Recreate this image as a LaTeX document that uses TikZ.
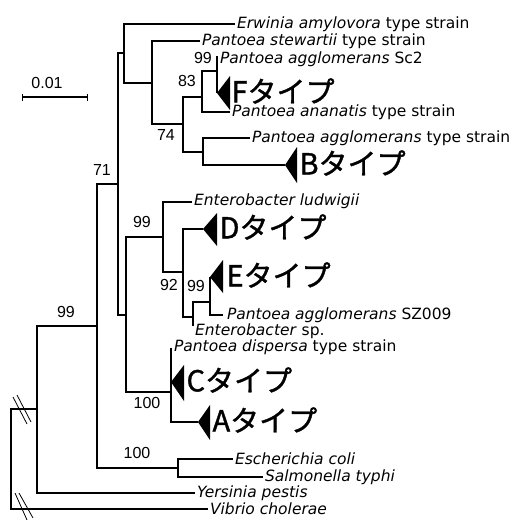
\documentclass[tikz,border=0pt]{standalone}
\usepackage{fontspec}
\setmainfont{DejaVu Sans}
\newfontfamily\jpfont[FakeBold=1.2]{Noto Sans CJK JP}
\newfontfamily\numfont{Liberation Sans}
\usetikzlibrary{arrows.meta}
\begin{document}
\begin{tikzpicture}[x=1pt,y=-1pt,line width=1.1pt,
  sp/.style={anchor=west,inner sep=1.5pt,font=\fontsize{15.5}{16}\selectfont},
  bs/.style={inner sep=0pt,font=\numfont\fontsize{16}{16}\selectfont},
  typ/.style={anchor=west,inner sep=0pt,font=\jpfont\fontsize{29}{29}\selectfont}]

\useasboundingbox (0,0) rectangle (515,520);

% inner nodes of the tree
\coordinate (r) at (11,459);  \coordinate (n1) at (37,409);  \coordinate (n2) at (97,326);
\coordinate (n3) at (118,184); \coordinate (n4) at (124,53);  \coordinate (n5) at (126,315);
\coordinate (n6) at (152,83);  \coordinate (n7) at (183,124); \coordinate (n8) at (202,97);
\coordinate (n9) at (203,152); \coordinate (n10) at (217,71); \coordinate (n11) at (163,237);
\coordinate (n12) at (171,392); \coordinate (n13) at (183,272); \coordinate (n14) at (193,317);
\coordinate (n15) at (210,302); \coordinate (n16) at (178,468);

% leaves
\coordinate (erw) at (235,24);  \coordinate (ste) at (200,41);  \coordinate (sc2) at (217,56);
\coordinate (ana) at (230,112); \coordinate (agg) at (250,138); \coordinate (lud) at (192,202);
\coordinate (sz9) at (223,315); \coordinate (esp) at (193,326); \coordinate (dis) at (171,348);
\coordinate (eco) at (233,459); \coordinate (sal) at (263,477); \coordinate (yer) at (195,493);
\coordinate (vib) at (208,509);
\coordinate (tF) at (217,93);  \coordinate (tB) at (285,165); \coordinate (tD) at (203,229);
\coordinate (tE) at (210,277); \coordinate (tC) at (171,382); \coordinate (tA) at (198,422);

% branches
\draw (r) |- (n1);  \draw (r) |- (vib);
\draw (n1) |- (n2); \draw (n1) |- (yer);
\draw (n2) |- (n3); \draw (n2) |- (n16);
\draw (n16) |- (eco); \draw (n16) |- (sal);
\draw (n3) |- (n4); \draw (n3) |- (n5);
\draw (n4) |- (erw); \draw (n4) |- (n6);
\draw (n6) |- (ste); \draw (n6) |- (n7);
\draw (n7) |- (n8); \draw (n7) |- (n9);
\draw (n8) |- (n10); \draw (n8) |- (ana);
\draw (n10) |- (sc2); \draw (n10) |- (tF);
\draw (n9) |- (agg); \draw (n9) |- (tB);
\draw (n5) |- (n11); \draw (n5) |- (n12);
\draw (n11) |- (lud); \draw (n11) |- (n13);
\draw (n13) |- (tD); \draw (n13) |- (n14);
\draw (n14) |- (n15); \draw (n14) |- (esp);
\draw (n15) |- (tE); \draw (n15) |- (sz9);
\draw (n12) |- (dis); \draw (n12) |- (tC); \draw (n12) |- (tA);

% collapsed clades
\fill (tF) -- ++(13,-17) -- ++(0,34) -- cycle;
\fill (tB) -- ++(12,-18) -- ++(0,36) -- cycle;
\fill (tD) -- ++(14,-16) -- ++(0,33) -- cycle;
\fill (tE) -- ++(13,-17) -- ++(0,33) -- cycle;
\fill (tC) -- ++(13,-17) -- ++(0,36) -- cycle;
\fill (tA) -- ++(12,-17) -- ++(0,35) -- cycle;

% break marks
\draw[line width=0.8pt] (13,397) -- (27,424); \draw[line width=0.8pt] (17,395) -- (31,422);
\draw[line width=0.8pt] (15,493) -- (27,520); \draw[line width=0.8pt] (19,493) -- (33,518);

% scale bar
\coordinate (sb1) at (22,97); \coordinate (sb2) at (88,97);
\draw[{Bar[width=7pt]}-{Bar[width=7pt]}] (sb1) -- (sb2);
\node[bs] (sbl) at (47,83) {0.01};

% leaf labels
\node[sp] (lerw) at (erw) {\textit{Erwinia amylovora} type strain};
\node[sp] (lste) at (ste) {\textit{Pantoea stewartii} type strain};
\node[sp] (lsc2) at (218,59) {\textit{Pantoea agglomerans} Sc2};
\node[sp] (lana) at (ana) {\textit{Pantoea ananatis} type strain};
\node[sp] (lagg) at (agg) {\textit{Pantoea agglomerans} type strain};
\node[sp] (llud) at (192,201) {\textit{Enterobacter ludwigii}};
\node[sp] (lsz9) at (225,315) {\textit{Pantoea agglomerans} SZ009};
\node[sp] (lesp) at (193,331) {\textit{Enterobacter} sp.};
\node[sp] (ldis) at (172,347) {\textit{Pantoea dispersa} type strain};
\node[sp] (leco) at (eco) {\textit{Escherichia coli}};
\node[sp] (lsal) at (sal) {\textit{Salmonella typhi}};
\node[sp] (lyer) at (yer) {\textit{Yersinia pestis}};
\node[sp] (lvib) at (vib) {\textit{Vibrio cholerae}};

% type labels
\node[typ] (lF) at (231,91) {Fタイプ};
\node[typ] (lB) at (299,163) {Bタイプ};
\node[typ] (lD) at (219,227) {Dタイプ};
\node[typ] (lE) at (226,275) {Eタイプ};
\node[typ] (lC) at (186,380) {Cタイプ};
\node[typ] (lA) at (212,420) {Aタイプ};

% bootstrap values
\node[bs] (b1) at (203,58) {99};  \node[bs] (b2) at (187,81) {83};
\node[bs] (b3) at (166,135) {74}; \node[bs] (b4) at (102,170) {71};
\node[bs] (b5) at (142,222) {99}; \node[bs] (b6) at (169,285) {92};
\node[bs] (b7) at (196,286) {99}; \node[bs] (b8) at (147,403) {100};
\node[bs] (b9) at (137,453) {100}; \node[bs] (b10) at (66,312) {99};

\end{tikzpicture}
\end{document}
